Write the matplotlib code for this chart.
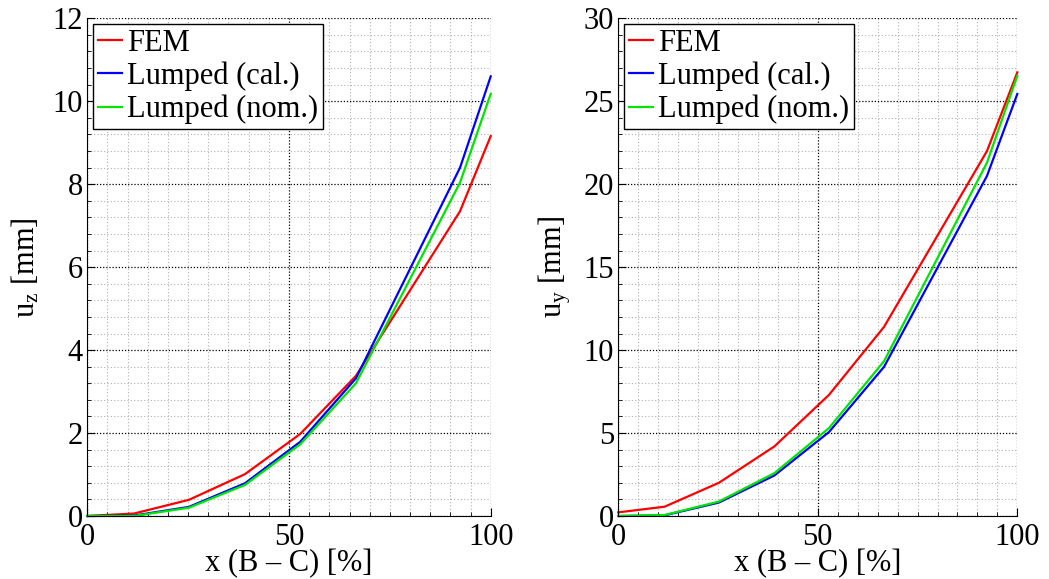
import matplotlib
matplotlib.use("Agg")
import matplotlib.pyplot as plt
from matplotlib.ticker import MultipleLocator

plt.rcParams['font.family'] = ['Liberation Serif', 'DejaVu Serif']
plt.rcParams['mathtext.fontset'] = 'custom'
plt.rcParams['mathtext.rm'] = 'Liberation Serif'
plt.rcParams['mathtext.it'] = 'Liberation Serif'

# x positions along B-C [%]
x_pos = [0, 11.6, 25.2, 39.1, 52.8, 66.6, 92.4, 100]

# u_z [mm]
uz_fem = [0.0, 0.06, 0.39, 1.01, 1.98, 3.38, 7.35, 9.16]
uz_cal = [0.0, 0.01, 0.22, 0.79, 1.79, 3.32, 8.40, 10.60]
uz_nom = [0.0, 0.0, 0.20, 0.75, 1.73, 3.20, 8.04, 10.18]

# u_y [mm]
uy_fem = [0.22, 0.56, 2.0, 4.19, 7.30, 11.40, 22.0, 26.74]
uy_cal = [0.0, 0.04, 0.81, 2.44, 5.06, 8.99, 20.5, 25.44]
uy_nom = [0.0, 0.06, 0.87, 2.58, 5.30, 9.33, 21.3, 26.54]

labels = ['FEM', 'Lumped (cal.)', 'Lumped (nom.)']
colors = ['#ff0000', '#0000ff', '#00e600']

fig = plt.figure(figsize=(10.49, 5.79), dpi=100)
ax1 = fig.add_axes([0.0832, 0.1088, 0.3846, 0.8596])
ax2 = fig.add_axes([0.5894, 0.1088, 0.3804, 0.8596])

FS = 22

def style(ax, ylim, ymaj, ymin, ylabel):
    ax.set_xlim(0, 100)
    ax.set_ylim(*ylim)
    ax.xaxis.set_major_locator(MultipleLocator(50))
    ax.xaxis.set_minor_locator(MultipleLocator(5))
    ax.yaxis.set_major_locator(MultipleLocator(ymaj))
    ax.yaxis.set_minor_locator(MultipleLocator(ymin))
    ax.grid(which='major', color='black', linestyle=(0, (1, 1.5)), linewidth=0.9)
    ax.grid(which='minor', color='#b0b0b0', linestyle=(0, (1, 2)), linewidth=0.8)
    ax.set_axisbelow(True)
    for s in ['top', 'right']:
        ax.spines[s].set_visible(False)
    for s in ['left', 'bottom']:
        ax.spines[s].set_linewidth(0.8)
    ax.tick_params(which='major', direction='in', length=6, labelsize=FS, pad=3)
    ax.tick_params(which='minor', direction='in', length=3)
    ax.tick_params(axis='x', which='major', pad=5)
    ax.set_xlabel('x (B – C) [%]', fontsize=FS, labelpad=-2)
    ax.set_ylabel(ylabel, fontsize=FS, labelpad=8)

for ax, series in [(ax1, [uz_fem, uz_cal, uz_nom]), (ax2, [uy_fem, uy_cal, uy_nom])]:
    for ys, c, lab in zip(series, colors, labels):
        ax.plot(x_pos, ys, color=c, linewidth=1.6, label=lab, clip_on=False)
    leg = ax.legend(loc='upper left', fontsize=FS, frameon=True, fancybox=False,
                    edgecolor='black', framealpha=1, handlelength=0.8,
                    handletextpad=0.15, labelspacing=0.12, borderpad=0.15,
                    borderaxespad=0.2)
    leg.get_frame().set_linewidth(1.0)

style(ax1, (0, 12), 2, 0.4, r'u$_{\mathregular{z}}$ [mm]')
style(ax2, (0, 30), 5, 1, r'u$_{\mathregular{y}}$ [mm]')

fig.savefig('out.png', dpi=100)
